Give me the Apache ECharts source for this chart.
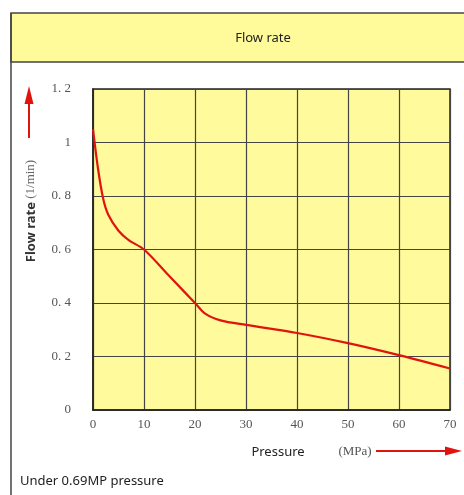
<!DOCTYPE html>
<html><head><meta charset="utf-8">
<script src="https://cdn.jsdelivr.net/npm/echarts@6/dist/echarts.min.js"></script>
<style>html,body{margin:0;padding:0;background:#fff}#c{width:464px;height:495px}</style>
</head><body><div id="c"></div>
<script>
const pressure = [0, 1, 2, 3, 5, 7, 10, 15, 20, 22, 25, 30, 40, 50, 60, 70];
const flowRate = [1.05, 0.9, 0.79, 0.73, 0.67, 0.635, 0.6, 0.5, 0.4, 0.36, 0.335, 0.318, 0.288, 0.25, 0.205, 0.155];
const xTicks = [0, 10, 20, 30, 40, 50, 60, 70];
const yTicks = [0, 0.2, 0.4, 0.6, 0.8, 1, 1.2];
const titleText = 'Flow rate';
const yName = 'Flow rate';
const yUnit = ' (1/min)';
const xName = 'Pressure';
const xUnit = '(MPa)';
const footText = 'Under 0.69MP pressure';

const chart = echarts.init(document.getElementById('c'));
const serif = "'Liberation Serif','DejaVu Serif',serif";
const sans = "'Noto Sans','Open Sans',sans-serif";
chart.setOption({
  animation: false,
  backgroundColor: '#ffffff',
  grid: {left: 93, right: 14, top: 89, bottom: 85, show: true, backgroundColor: '#fffa9b', borderColor: '#222', borderWidth: 1.5},
  xAxis: {
    type: 'value', min: 0, max: 70, interval: 10,
    axisLine: {show: true, lineStyle: {color: '#222', width: 1.5}},
    axisTick: {show: false},
    splitLine: {show: true, lineStyle: {color: '#444', width: 1.2}},
    axisLabel: {color: '#555', fontFamily: serif, fontSize: 13, margin: 8,
      formatter: v => xTicks.includes(v) ? String(v) : ''}
  },
  yAxis: {
    type: 'value', min: 0, max: 1.2, interval: 0.2,
    axisLine: {show: true, lineStyle: {color: '#222', width: 1.5}},
    axisTick: {show: false},
    splitLine: {show: true, lineStyle: {color: '#444', width: 1.2}},
    axisLabel: {color: '#555', fontFamily: serif, fontSize: 13, margin: 22,
      formatter: v => { const t = yTicks.find(k => Math.abs(k - v) < 1e-6); return t === undefined ? '' : String(t).replace('.', '. '); }}
  },
  series: [{
    type: 'line', smooth: 0.3, symbol: 'none',
    lineStyle: {color: '#e0140f', width: 2.2},
    data: pressure.map((p, i) => [p, flowRate[i]])
  }],
  graphic: [
    {type: 'rect', shape: {x: 11, y: 13, width: 460, height: 49}, style: {fill: '#fffb9a', stroke: '#444', lineWidth: 1.5}, z: 0},
    {type: 'line', shape: {x1: 11, y1: 13, x2: 11, y2: 500}, style: {stroke: '#444', lineWidth: 1.5}},
    {type: 'text', x: 263, y: 38, style: {text: titleText, fontFamily: sans, fontSize: 13, fill: '#222', textAlign: 'center', textVerticalAlign: 'middle'}},
    {type: 'text', x: 31, y: 211, rotation: Math.PI / 2, style: {
      text: '{a|' + yName + '}{b|' + yUnit + '}', textAlign: 'center', textVerticalAlign: 'middle',
      rich: {
        a: {fontFamily: sans, fontSize: 13, fontWeight: 'bold', fill: '#333'},
        b: {fontFamily: serif, fontSize: 13, fill: '#666'}
      }}},
    {type: 'line', shape: {x1: 29, y1: 138, x2: 29, y2: 100}, style: {stroke: '#e0140f', lineWidth: 2}},
    {type: 'polygon', shape: {points: [[29, 86], [24.5, 104], [33.5, 104]]}, style: {fill: '#e0140f'}},
    {type: 'text', x: 278, y: 452, style: {text: xName, fontFamily: sans, fontSize: 13, fill: '#222', textAlign: 'center', textVerticalAlign: 'middle'}},
    {type: 'text', x: 355, y: 452, style: {text: xUnit, fontFamily: serif, fontSize: 13, fill: '#555', textAlign: 'center', textVerticalAlign: 'middle'}},
    {type: 'line', shape: {x1: 376, y1: 451, x2: 448, y2: 451}, style: {stroke: '#e0140f', lineWidth: 2}},
    {type: 'polygon', shape: {points: [[462, 451], [445, 446.5], [445, 455.5]]}, style: {fill: '#e0140f'}},
    {type: 'text', x: 20, y: 481, style: {text: footText, fontFamily: sans, fontSize: 13, fill: '#222', textVerticalAlign: 'middle'}}
  ]
});
</script></body></html>
